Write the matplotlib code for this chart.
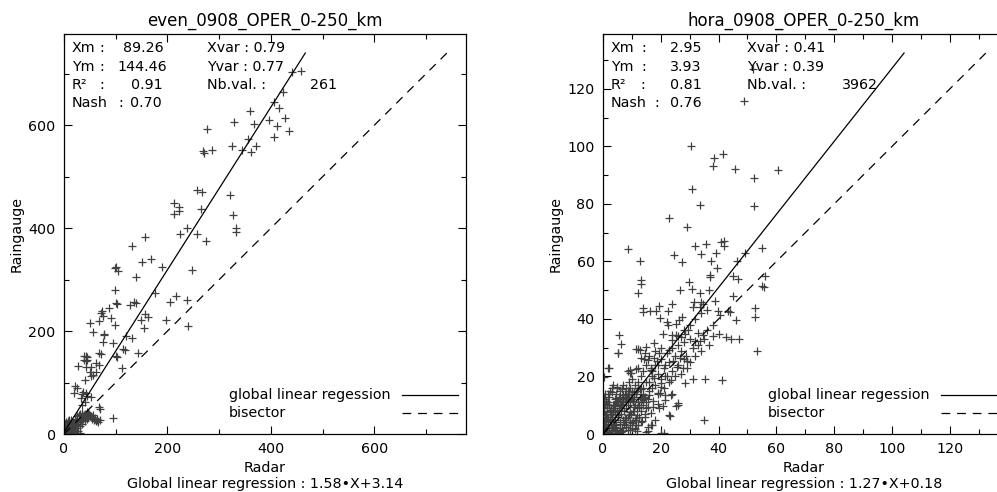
import matplotlib
matplotlib.use('Agg')
import matplotlib.pyplot as plt
import numpy as np

W, H = 997, 492

# --- even_0908 (left panel) ---
radar_even = [440, 458, 424, 406, 416, 359, 397, 427, 329, 368, 411, 277, 434, 406, 355, 324, 371, 344, 361, 287,
              269, 271, 258, 266, 321, 212, 223, 223, 212, 265, 327, 333, 333, 238, 224, 258, 274, 156, 131, 169,
              151, 101, 99, 104, 139, 190, 247, 98, 176, 135, 139, 101, 103, 127, 87, 90, 74, 72, 76, 68,
              51, 56, 217, 205, 238, 198, 239, 157, 163, 149, 154, 119, 131, 95, 115, 117, 143, 101, 103, 113,
              78, 98, 76, 78, 71, 68, 62, 68, 38, 42, 44, 42, 45, 38, 28, 43, 52, 51, 56, 61,
              53, 40, 21, 25, 19, 34, 37, 43, 32, 45, 52, 41, 35, 68, 69, 95, 47, 56, 63, 69,
              50, 40, 34, 28, 21, 15, 8, 5, 2, 3, 6, 10, 12, 8, 14, 18, 22, 25, 30, 35,
              38, 45, 48, 52, 58, 62, 66, 44, 40, 35, 30, 25, 20, 15, 10, 18, 22, 26, 30, 12,
              6, 4, 1, 9, 14, 17, 24, 28, 32, 36, 42, 46, 54, 60, 20, 27, 16, 24, 31, 7,
              3, 2, 10, 4, 5, 11, 13, 16, 19, 23, 29, 33, 37, 41, 43, 49, 55, 59, 64, 9]
gauge_even = [703, 706, 664, 644, 634, 628, 610, 614, 606, 602, 598, 592, 588, 576, 573, 559, 559, 552, 547, 552,
              549, 545, 474, 471, 464, 449, 441, 433, 427, 437, 426, 400, 392, 400, 389, 389, 374, 383, 365, 340,
              334, 325, 322, 317, 305, 325, 318, 279, 273, 257, 255, 255, 253, 251, 244, 226, 239, 235, 230, 220,
              216, 199, 268, 256, 261, 221, 209, 233, 228, 221, 206, 190, 186, 177, 166, 163, 157, 152, 149, 129,
              193, 211, 179, 195, 156, 158, 138, 135, 151, 151, 150, 141, 143, 143, 132, 131, 131, 120, 115, 120,
              112, 105, 94, 90, 79, 77, 81, 80, 69, 74, 72, 62, 56, 53, 49, 31, 40, 37, 30, 27,
              35, 34, 27, 24, 22, 17, 10, 6, 2, 8, 12, 15, 20, 25, 28, 22, 30, 35, 38, 40,
              36, 42, 38, 33, 28, 25, 24, 30, 25, 20, 15, 12, 8, 5, 3, 2, 0, 1, 0, 1,
              0, 3, 0, 6, 9, 13, 18, 20, 28, 31, 34, 33, 30, 32, 4, 5, 0.5, 0.5, 2, 18,
              14, 20, 27, 24, 1, 7, 4, 10, 16, 26, 36, 26, 29, 38, 37, 36, 32, 29, 27, 22]

# --- hora_0908 (right panel) ---
radar_hora = [48.7, 52.0, 30.6, 41.4, 38.4, 38.2, 45.6, 60.6, 52.4, 30.9, 33.6, 52.4, 23.0, 29.2, 42.0, 42.0, 35.8, 31.8, 55.2, 8.7,
              12.8, 24.5, 27.5, 33.8, 37.5, 39.0, 39.5, 41.0, 37.1, 37.1, 44.9, 46.3, 46.7, 49.1, 55.9, 55.1, 55.7, 52.5, 52.6, 53.3,
              13.1, 13.1, 12.0, 29.8, 26.7, 30.7, 36.7, 33.4, 33.8, 33.4, 31.6, 31.0, 34.7, 38.7, 44.9, 43.9, 46.2, 39.9, 40.4, 43.2,
              13.7, 13.9, 16.1, 18.3, 19.4, 22.4, 23.9, 19.7, 22.0, 26.2, 27.5, 25.1, 22.6, 20.9, 23.9, 23.9, 25.2, 26.9, 28.3, 29.5,
              30.0, 31.7, 33.0, 33.4, 34.7, 36.7, 38.1, 40.0, 42.6, 44.3, 46.9, 5.7, 6.1, 5.1, 2.0, 0.5, 11.4, 12.8, 15.0, 14.7,
              17.8, 19.4, 14.1, 17.6, 18.7, 16.7, 21.3, 22.9, 24.3, 25.5, 27.8, 28.9, 28.6, 26.7, 8.7, 9.3, 11.5, 17.8, 20.1, 19.6,
              17.2, 18.9, 20.6, 17.2, 21.4, 24.0, 26.0, 25.2, 23.1, 28.3, 31.1, 35.4, 41.1, 34.9, 16.9, 15.5, 21.2, 15.0, 5.2, 1.7,
              9.2, 9.8, 12.1, 13.2, 15.5, 16.7, 18.9, 21.3, 23.6, 20.1, 19.0, 21.3, 23.6, 25.9, 19.5, 23.0, 15.5, 16.7, 14.4, 17.9,
              15.5, 16.7, 20.1,
              0.2, 0.5, 0.8, 1.0, 1.2, 1.5, 1.8, 2.0, 2.2, 2.5, 2.8, 3.0, 3.2, 3.5, 3.8, 4.0, 4.2, 4.5, 4.8, 5.0,
              5.2, 5.5, 5.8, 6.0, 6.2, 6.5, 6.8, 7.0, 7.2, 7.5, 7.8, 8.0, 8.2, 8.5, 8.8, 9.0, 9.2, 9.5, 9.8, 10.0,
              10.2, 10.5, 10.8, 11.0, 11.2, 11.5, 11.8, 12.0, 12.2, 12.5, 12.8, 13.0, 13.5, 14.0, 14.5, 15.0, 0.3, 0.4, 0.6, 0.5,
              0.7, 0.2, 1.0, 1.3, 1.6, 2.0, 2.4, 3.0, 3.5, 4.5, 5.0, 6.0, 7.0, 8.0, 2.5, 3.3, 4.1, 1.1, 2.1, 3.8,
              5.5, 6.5, 7.5, 8.5, 9.5, 1.5, 2.8, 4.0, 5.5, 7.0, 8.5, 10.0, 11.5, 13.0, 6.0, 7.8, 9.0, 10.5, 12.0, 3.0,
              4.5, 6.2, 8.0, 9.5, 11.0, 0.1, 0.9, 1.7, 2.6, 3.4, 4.3, 5.1, 6.0, 6.9, 7.9, 8.7, 9.8, 10.9, 11.8, 12.8,
              13.8, 14.5, 15.5, 16.0,
              16, 17, 18, 19, 20, 21, 22, 23, 24, 25, 26, 27, 28, 14, 15, 16, 17, 18, 20, 22,
              24, 26, 13, 12, 11, 14, 15, 10, 12, 9, 19, 21, 23, 25, 27, 29, 30, 32, 34, 31,
              33, 35, 36, 38, 30, 28, 26, 32, 34, 36, 28, 20, 18, 16, 8, 7, 13, 14, 17,
              0.3, 0.6, 1.2, 1.9, 2.7, 3.6, 4.4, 5.3, 6.1, 7.3, 8.1, 9.3, 10.3, 11.3, 12.4, 13.3, 14.2, 0.4, 1.4, 2.3,
              3.1, 4.1, 4.9, 5.7, 6.6, 7.6, 8.4, 9.4, 10.6, 11.6, 0.8, 1.8, 2.9, 3.9, 4.7, 5.9, 6.7, 7.7, 8.9, 9.9,
              10.7, 11.7, 12.6, 13.6, 14.8, 0.5, 1.5, 2.6, 3.7, 4.6]
gauge_hora = [115.9, 127.0, 100.2, 97.5, 96.0, 93.3, 92.2, 91.7, 89.1, 85.1, 79.6, 79.4, 75.0, 71.9, 67.0, 65.5, 66.2, 65.3, 64.7, 64.2,
              60.3, 62.3, 59.9, 62.5, 60.3, 63.1, 57.6, 66.9, 55.3, 54.5, 55.0, 60.3, 53.8, 62.8, 55.1, 51.5, 51.1, 40.6, 43.7, 29.0,
              53.6, 52.1, 48.9, 52.8, 50.1, 50.3, 50.1, 48.9, 46.0, 44.1, 46.0, 44.0, 45.1, 46.3, 48.0, 42.5, 39.5, 42.9, 41.4, 42.8,
              43.7, 42.4, 42.7, 42.9, 44.5, 42.9, 45.1, 40.5, 39.1, 39.7, 40.6, 38.3, 38.0, 34.9, 34.4, 32.7, 34.5, 33.7, 34.7, 36.1,
              33.2, 32.3, 35.2, 32.5, 34.3, 31.0, 34.0, 34.8, 33.8, 33.0, 33.1, 34.4, 31.4, 28.3, 23.1, 19.9, 29.6, 29.3, 30.4, 28.3,
              31.5, 28.1, 26.2, 26.4, 25.4, 23.1, 24.0, 29.2, 25.4, 23.4, 23.1, 25.4, 27.1, 26.5, 21.9, 21.1, 22.5, 19.4, 17.8, 14.2,
              11.4, 10.4, 9.8, 9.4, 13.6, 14.0, 10.7, 9.7, 6.4, 17.9, 19.2, 19.2, 18.7, 4.8, 3.1, 1.2, 0.5, 0.8, 28.3, 22.8,
              22.3, 21.3, 29.4, 26.5, 25.9, 22.4, 24.1, 20.0, 18.8, 16.5, 14.2, 11.8, 13.6, 10.1, 9.0, 6.6, 9.5, 7.2, 6.0, 4.8,
              2.5, 3.0, 0.3,
              0.3, 1.0, 2.0, 0.5, 3.0, 1.5, 4.0, 2.0, 0.8, 5.0, 3.0, 1.0, 6.0, 4.0, 2.0, 7.0, 5.0, 3.0, 8.0, 1.0,
              6.0, 9.0, 4.0, 10.0, 7.0, 2.0, 11.0, 5.0, 8.0, 12.0, 3.0, 9.0, 13.0, 6.0, 10.0, 14.0, 4.0, 11.0, 7.0, 15.0,
              12.0, 8.0, 13.0, 5.0, 10.0, 14.0, 9.0, 16.0, 11.0, 6.0, 13.0, 8.0, 12.0, 10.0, 7.0, 11.0, 5.0, 8.0, 10.0, 12.0,
              14.0, 3.0, 7.0, 9.0, 11.0, 13.0, 15.0, 16.0, 17.0, 14.0, 16.0, 15.0, 17.0, 16.0, 8.0, 10.0, 12.0, 6.0, 10.0, 9.0,
              13.0, 12.0, 14.0, 15.0, 16.0, 0.2, 0.3, 0.5, 0.4, 1.0, 1.5, 2.0, 3.0, 4.0, 3.5, 5.5, 6.5, 4.5, 3.0, 2.5,
              1.5, 0.8, 2.5, 3.0, 1.8, 1.5, 3.5, 5.3, 6.8, 7.5, 9.8, 11.0, 12.5, 13.5, 11.5, 12.0, 13.0, 14.5, 15.0, 15.5,
              14.0, 13.0, 12.0, 13.5,
              18, 20, 17, 21, 19, 23, 20, 25, 22, 27, 24, 29, 26, 16, 18, 15, 22, 24, 26, 28,
              30, 31, 20, 18, 17, 22, 24, 19, 23, 18, 14, 16, 18, 20, 21, 23, 25, 27, 29, 30,
              31, 33, 36, 38, 38, 36, 34, 40, 42, 43, 32, 30, 29, 27, 14, 12, 11, 13, 16,
              9.5, 6.5, 11.5, 4.5, 8.5, 2.5, 12.5, 6.5, 10.5, 3.5, 13.5, 7.5, 11.5, 5.5, 9.5, 15.5, 12.5, 13.0, 10.5, 7.5,
              14.5, 2.5, 11.5, 8.5, 15.5, 5.5, 12.5, 1.5, 9.5, 6.5, 4.5, 14.0, 9.0, 3.0, 16.5, 2.2, 10.0, 5.0, 15.0, 3.8,
              8.0, 1.2, 10.0, 4.5, 9.0, 12.0, 6.0, 8.0, 10.0, 11.0]

panels = [
    dict(title='even_0908_OPER_0-250_km', x=radar_even, y=gauge_even,
         slope=1.58, icpt=3.14, vmax=740.0, major=200, minor=100, left=64,
         names=['Xm', 'Ym', 'R\u00b2', 'Nash'], colons=[38, 38, 38, 57],
         vals=[('89.26', 123), ('144.46', 117), ('0.91', 131), ('0.70', 130)],
         stats_r=['Xvar : 0.79', 'Yvar : 0.77', 'Nb.val. :'], nb='261', nbx=310, colx=207,
         eq='Global linear regression : 1.58\u2022X+3.14'),
    dict(title='hora_0908_OPER_0-250_km', x=radar_hora, y=gauge_hora,
         slope=1.27, icpt=0.18, vmax=132.5, major=20, minor=10, left=603,
         names=['Xm', 'Ym', 'R\u00b2', 'Nash'], colons=[41, 41, 40, 54],
         vals=[('2.95', 670), ('3.93', 670), ('0.81', 670), ('0.76', 670)],
         stats_r=['Xvar : 0.41', 'Yvar : 0.39', 'Nb.val. :'], nb='3962', nbx=842, colx=747,
         eq='Global linear regression : 1.27\u2022X+0.18'),
]

fig = plt.figure(figsize=(W / 100, H / 100), dpi=100)
fs = 10.3

def fx(px):
    return px / W

def fy(py):
    return 1 - py / H

rows = [48, 67, 85, 103]
dash = (0, (7, 5.5))

for p in panels:
    L = p['left']
    ax = fig.add_axes([fx(L), fy(434), 402 / W, 400 / H])
    top = p['vmax'] * 1.05
    ax.set_xlim(0, top)
    ax.set_ylim(0, top)
    ax.plot(p['x'], p['y'], '+', color='#404040', ms=5.5, mew=0.9, clip_on=True)
    # regression line and bisector
    xr = np.array([0, (p['vmax'] - p['icpt']) / p['slope']])
    ax.plot(xr, p['slope'] * xr + p['icpt'], color='k', lw=0.9)
    ax.plot([0, p['vmax']], [0, p['vmax']], color='k', lw=0.9, ls=dash)

    ax.set_xticks(np.arange(0, top, p['major']))
    ax.set_yticks(np.arange(0, top, p['major']))
    ax.set_xticks(np.arange(0, top, p['minor']), minor=True)
    ax.set_yticks(np.arange(0, top, p['minor']), minor=True)
    ax.tick_params(which='both', direction='in', top=True, right=True, labelsize=fs, width=0.8, pad=6)
    ax.tick_params(which='major', length=6)
    ax.tick_params(which='minor', length=3.5)
    for s in ax.spines.values():
        s.set_linewidth(0.9)

    cx = L + 201
    fig.text(fx(cx), fy(21), p['title'], ha='center', va='center', fontsize=12)
    fig.text(fx(cx), fy(468), 'Radar', ha='center', va='center', fontsize=fs)
    fig.text(fx(cx), fy(484), p['eq'], ha='center', va='center', fontsize=fs)
    fig.text(fx(L - 47), fy(234), 'Raingauge', ha='center', va='center', rotation=90, fontsize=fs)

    for name, cpos, (val, vx), ry in zip(p['names'], p['colons'], p['vals'], rows):
        fig.text(fx(L + 8), fy(ry), name, ha='left', va='center', fontsize=fs)
        fig.text(fx(L + cpos), fy(ry), ':', ha='center', va='center', fontsize=fs)
        fig.text(fx(vx), fy(ry), val, ha='left', va='center', fontsize=fs)
    for lab, ry in zip(p['stats_r'], rows):
        fig.text(fx(p['colx']), fy(ry), lab, ha='left', va='center', fontsize=fs)
    fig.text(fx(p['nbx']), fy(rows[2]), p['nb'], ha='left', va='center', fontsize=fs)

    # legend drawn IDL-style at the bottom right
    fig.text(fx(L + 165), fy(395), 'global linear regession', ha='left', va='center', fontsize=fs)
    fig.text(fx(L + 165), fy(413), 'bisector', ha='left', va='center', fontsize=fs)
    fig.add_artist(plt.Line2D([fx(L + 338), fx(L + 394)], [fy(395), fy(395)], color='k', lw=0.9))
    fig.add_artist(plt.Line2D([fx(L + 338), fx(L + 394)], [fy(413), fy(413)], color='k', lw=0.9, ls=dash))

fig.savefig('out.png', dpi=100)
